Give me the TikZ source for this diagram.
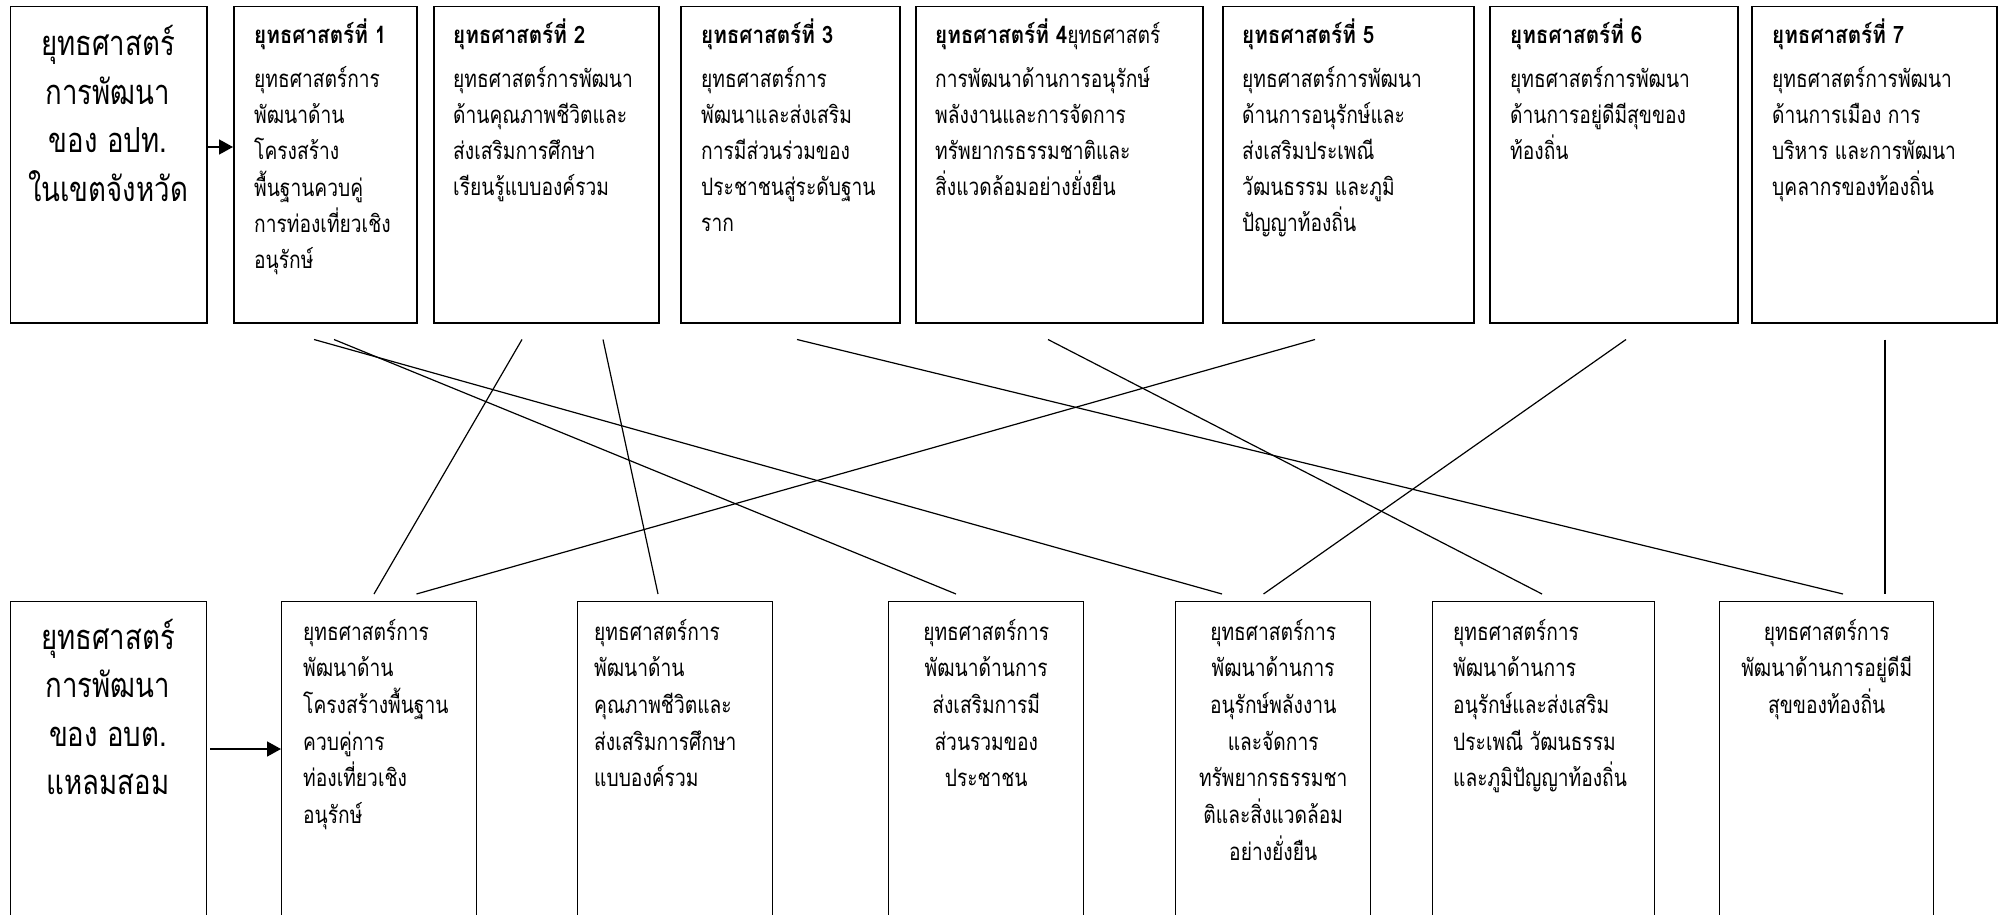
\documentclass[tikz,border=0pt]{standalone}
\usepackage{fontspec}
\usetikzlibrary{arrows.meta,calc}
\newfontfamily\thai[Script=Thai,FakeStretch=0.8,BoldFeatures={FakeStretch=0.86}]{Loma}
\newcommand\bodyfont{\thai\fontsize{24}{36}\selectfont}
\newcommand\botfont{\thai\fontsize{24}{36.7}\selectfont}
\newcommand\bigtopfont{\thai\fontsize{34.5}{48.5}\selectfont}
\newcommand\bigbotfont{\thai\fontsize{34.5}{48.5}\selectfont}
\begin{document}
\begin{tikzpicture}[x=1pt,y=-1pt,
  topbox/.style={draw,line width=1.5pt,anchor=north west,inner sep=0pt,minimum height=316pt},
  botbox/.style={draw,line width=1.4pt,anchor=north west,inner sep=0pt,minimum height=330pt},
  toptxt/.style={inner sep=0pt,anchor=base west,font=\bodyfont},
  bottxt/.style={inner sep=0pt,anchor=base west,font=\botfont},
  botctxt/.style={inner sep=0pt,anchor=base,font=\botfont},
  link/.style={line width=1.2pt},
  arr/.style={line width=1.6pt,-{Triangle[length=14pt,width=15pt]}}]
\clip (0,0) rectangle (2002,915);
\fill[white] (0,0) rectangle (2002,915);
% top row boxes
\node[topbox,minimum width=196.5pt] (ltop) at (9.5,6) {};
\node[topbox,minimum width=183pt] (t1) at (233,6) {};
\node[topbox,minimum width=225pt] (t2) at (433,6) {};
\node[topbox,minimum width=219pt] (t3) at (680,6) {};
\node[topbox,minimum width=287pt] (t4) at (915,6) {};
\node[topbox,minimum width=251pt] (t5) at (1222,6) {};
\node[topbox,minimum width=248pt] (t6) at (1489,6) {};
\node[topbox,minimum width=245pt] (t7) at (1751,6) {};
% bottom row boxes
\node[botbox,minimum width=196.5pt] (lbot) at (9.5,601) {};
\node[botbox,minimum width=195pt] (b1) at (281,601) {};
\node[botbox,minimum width=195pt] (b2) at (577,601) {};
\node[botbox,minimum width=195pt] (b3) at (888,601) {};
\node[botbox,minimum width=195pt] (b4) at (1175,601) {};
\node[botbox,minimum width=222pt] (b5) at (1432,601) {};
\node[botbox,minimum width=214pt] (b6) at (1719,601) {};
% texts top
\node[inner sep=0pt,anchor=base,font=\bigtopfont] (ltoptxt) at (108,56)
  {\begin{tabular}[t]{@{}c@{}}ยุทธศาสตร์\\การพัฒนา\\ของ อปท.\\ในเขตจังหวัด\end{tabular}};
\node[toptxt] (t1txt) at ($(t1.north west)+(21,38)$)
  {\begin{tabular}[t]{@{}l@{}}\textbf{ยุทธศาสตร์ที่ 1}\\[8pt]ยุทธศาสตร์การ\\พัฒนาด้าน\\โครงสร้าง\\พื้นฐานควบคู่\\การท่องเที่ยวเชิง\\อนุรักษ์\end{tabular}};
\node[toptxt] (t2txt) at ($(t2.north west)+(20,38)$)
  {\begin{tabular}[t]{@{}l@{}}\textbf{ยุทธศาสตร์ที่ 2}\\[8pt]ยุทธศาสตร์การพัฒนา\\ด้านคุณภาพชีวิตและ\\ส่งเสริมการศึกษา\\เรียนรู้แบบองค์รวม\end{tabular}};
\node[toptxt] (t3txt) at ($(t3.north west)+(21,38)$)
  {\begin{tabular}[t]{@{}l@{}}\textbf{ยุทธศาสตร์ที่ 3}\\[8pt]ยุทธศาสตร์การ\\พัฒนาและส่งเสริม\\การมีส่วนร่วมของ\\ประชาชนสู่ระดับฐาน\\ราก\end{tabular}};
\node[toptxt] (t4txt) at ($(t4.north west)+(20,38)$)
  {\begin{tabular}[t]{@{}l@{}}\textbf{ยุทธศาสตร์ที่ 4}ยุทธศาสตร์\\[8pt]การพัฒนาด้านการอนุรักษ์\\พลังงานและการจัดการ\\ทรัพยากรธรรมชาติและ\\สิ่งแวดล้อมอย่างยั่งยืน\end{tabular}};
\node[toptxt] (t5txt) at ($(t5.north west)+(20,38)$)
  {\begin{tabular}[t]{@{}l@{}}\textbf{ยุทธศาสตร์ที่ 5}\\[8pt]ยุทธศาสตร์การพัฒนา\\ด้านการอนุรักษ์และ\\ส่งเสริมประเพณี\\วัฒนธรรม และภูมิ\\ปัญญาท้องถิ่น\end{tabular}};
\node[toptxt] (t6txt) at ($(t6.north west)+(21,38)$)
  {\begin{tabular}[t]{@{}l@{}}\textbf{ยุทธศาสตร์ที่ 6}\\[8pt]ยุทธศาสตร์การพัฒนา\\ด้านการอยู่ดีมีสุขของ\\ท้องถิ่น\end{tabular}};
\node[toptxt] (t7txt) at ($(t7.north west)+(21,38)$)
  {\begin{tabular}[t]{@{}l@{}}\textbf{ยุทธศาสตร์ที่ 7}\\[8pt]ยุทธศาสตร์การพัฒนา\\ด้านการเมือง การ\\บริหาร และการพัฒนา\\บุคลากรของท้องถิ่น\end{tabular}};
% texts bottom
\node[inner sep=0pt,anchor=base,font=\bigbotfont] (lbottxt) at (108,649)
  {\begin{tabular}[t]{@{}c@{}}ยุทธศาสตร์\\การพัฒนา\\ของ อบต.\\แหลมสอม\end{tabular}};
\node[bottxt] (b1txt) at ($(b1.north west)+(22,39)$)
  {\begin{tabular}[t]{@{}l@{}}ยุทธศาสตร์การ\\พัฒนาด้าน\\โครงสร้างพื้นฐาน\\ควบคู่การ\\ท่องเที่ยวเชิง\\อนุรักษ์\end{tabular}};
\node[bottxt] (b2txt) at ($(b2.north west)+(17,39)$)
  {\begin{tabular}[t]{@{}l@{}}ยุทธศาสตร์การ\\พัฒนาด้าน\\คุณภาพชีวิตและ\\ส่งเสริมการศึกษา\\แบบองค์รวม\end{tabular}};
\node[botctxt] (b3txt) at ($(b3.north)+(0,39)$)
  {\begin{tabular}[t]{@{}c@{}}ยุทธศาสตร์การ\\พัฒนาด้านการ\\ส่งเสริมการมี\\ส่วนรวมของ\\ประชาชน\end{tabular}};
\node[botctxt] (b4txt) at ($(b4.north)+(0,39)$)
  {\begin{tabular}[t]{@{}c@{}}ยุทธศาสตร์การ\\พัฒนาด้านการ\\อนุรักษ์พลังงาน\\และจัดการ\\ทรัพยากรธรรมชา\\ติและสิ่งแวดล้อม\\อย่างยั่งยืน\end{tabular}};
\node[bottxt] (b5txt) at ($(b5.north west)+(21,39)$)
  {\begin{tabular}[t]{@{}l@{}}ยุทธศาสตร์การ\\พัฒนาด้านการ\\อนุรักษ์และส่งเสริม\\ประเพณี วัฒนธรรม\\และภูมิปัญญาท้องถิ่น\end{tabular}};
\node[botctxt] (b6txt) at ($(b6.north)+(0,39)$)
  {\begin{tabular}[t]{@{}c@{}}ยุทธศาสตร์การ\\พัฒนาด้านการอยู่ดีมี\\สุขของท้องถิ่น\end{tabular}};
% arrows
\coordinate (ya) at (0,147);
\coordinate (yb) at (0,749);
\draw[arr] (ltop.east |- ya) -- (t1.west |- ya);
\draw[arr,shorten <=3pt] (lbot.east |- yb) -- (b1.west |- yb);
% connectors
\draw[link] ($(t1.south west)+(81,16)$) -- ($(b4.north west)+(47,-7)$);
\draw[link] ($(t1.south west)+(101,16)$) -- ($(b3.north west)+(68,-7)$);
\draw[link] ($(t2.south west)+(89,16)$) -- ($(b1.north west)+(93,-7)$);
\draw[link] ($(t2.south west)+(170,16)$) -- ($(b2.north west)+(81,-7)$);
\draw[link] ($(t3.south west)+(117,16)$) -- ($(b6.north west)+(124,-7)$);
\draw[link] ($(t4.south west)+(133,16)$) -- ($(b5.north west)+(110,-7)$);
\draw[link] ($(t5.south west)+(93,16)$) -- ($(b1.north west)+(135.5,-7)$);
\draw[link] ($(t6.south west)+(137,16)$) -- ($(b4.north west)+(88.5,-7)$);
\draw[link] ($(t7.south west)+(134,16)$) -- ($(b6.north west)+(166,-7)$);
\end{tikzpicture}
\end{document}
